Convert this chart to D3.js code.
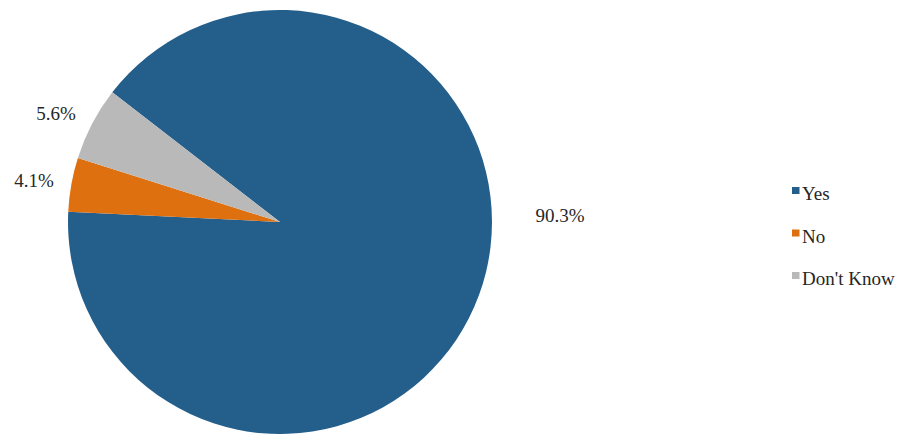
<!DOCTYPE html>
<html><head><meta charset="utf-8">
<script src="https://cdn.jsdelivr.net/npm/d3@7"></script>
<style>body{margin:0;background:#fff}svg{display:block}
svg text{font-family:"Liberation Serif","Times New Roman",serif !important;font-size:19px;fill:#262626}</style>
</head><body>
<svg id="c" width="898" height="434"></svg>
<script>
const categories = ["Yes", "No", "Don't Know"];
const values = [90.3, 4.1, 5.6];
const labels = ["90.3%", "4.1%", "5.6%"];
const colors = ["#245f8b", "#de7010", "#b9b9b9"];

const svg = d3.select("#c");
const cx = 280, cy = 222, r = 212;
const start = 307.7 * Math.PI / 180;
const pie = d3.pie().sort(null).startAngle(start).endAngle(start + 2 * Math.PI);
const arcs = pie(values);
const arc = d3.arc().innerRadius(0).outerRadius(r);
const g = svg.append("g").attr("transform", `translate(${cx},${cy})`);
g.selectAll("path").data(arcs).join("path")
  .attr("d", arc).attr("fill", (d, i) => colors[i]);

const lblPos = [[560, 222], [34, 187], [56, 120]];
svg.selectAll("text.lbl").data(arcs).join("text").attr("class", "lbl")
  .attr("x", (d, i) => lblPos[i][0]).attr("y", (d, i) => lblPos[i][1])
  .attr("text-anchor", "middle")
  .attr("font-family", "Liberation Serif")
  .text((d, i) => labels[i]);

const leg = svg.append("g");
const ly = d3.scalePoint().domain(categories).range([200, 285]);
categories.forEach((c, i) => {
  leg.append("rect").attr("x", 792).attr("y", ly(c) - 13).attr("width", 7.5).attr("height", 7).attr("fill", colors[i]);
  leg.append("text").attr("x", 802).attr("y", ly(c))
    .attr("font-family", "Liberation Serif").text(c);
});
</script>
</body></html>
